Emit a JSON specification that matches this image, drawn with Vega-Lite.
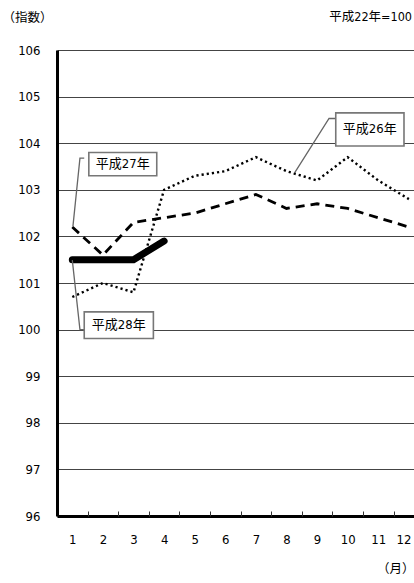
{
  "$schema": "https://vega.github.io/schema/vega-lite/v6.json",
  "autosize": "none",
  "width": 357,
  "height": 466,
  "padding": {"left": 57, "top": 50, "right": 0, "bottom": 67},
  "background": "white",
  "config": {
    "view": {"stroke": null},
    "font": "Liberation Sans Narrow, DejaVu Sans Condensed, Noto Sans CJK JP, sans-serif"
  },
  "title": {
    "text": "平成22年=100",
    "anchor": "end",
    "frame": "group",
    "orient": "top",
    "offset": -12,
    "fontSize": 12.5,
    "fontWeight": "normal",
    "font": "Liberation Sans Narrow, DejaVu Sans Condensed, Noto Sans CJK JP, sans-serif",
    "color": "black",
    "dx": -2
  },
  "resolve": {"axis": {"x": "independent"}},
  "datasets": {
    "lines": [
      {"series": "平成26年", "month": 1, "value": 100.7},
      {"series": "平成26年", "month": 2, "value": 101.0},
      {"series": "平成26年", "month": 3, "value": 100.8},
      {"series": "平成26年", "month": 4, "value": 103.0},
      {"series": "平成26年", "month": 5, "value": 103.3},
      {"series": "平成26年", "month": 6, "value": 103.4},
      {"series": "平成26年", "month": 7, "value": 103.7},
      {"series": "平成26年", "month": 8, "value": 103.4},
      {"series": "平成26年", "month": 9, "value": 103.2},
      {"series": "平成26年", "month": 10, "value": 103.7},
      {"series": "平成26年", "month": 11, "value": 103.2},
      {"series": "平成26年", "month": 12, "value": 102.8},
      {"series": "平成27年", "month": 1, "value": 102.2},
      {"series": "平成27年", "month": 2, "value": 101.6},
      {"series": "平成27年", "month": 3, "value": 102.3},
      {"series": "平成27年", "month": 4, "value": 102.4},
      {"series": "平成27年", "month": 5, "value": 102.5},
      {"series": "平成27年", "month": 6, "value": 102.7},
      {"series": "平成27年", "month": 7, "value": 102.9},
      {"series": "平成27年", "month": 8, "value": 102.6},
      {"series": "平成27年", "month": 9, "value": 102.7},
      {"series": "平成27年", "month": 10, "value": 102.6},
      {"series": "平成27年", "month": 11, "value": 102.4},
      {"series": "平成27年", "month": 12, "value": 102.2},
      {"series": "平成28年", "month": 1, "value": 101.5},
      {"series": "平成28年", "month": 2, "value": 101.5},
      {"series": "平成28年", "month": 3, "value": 101.5},
      {"series": "平成28年", "month": 4, "value": 101.9}
    ],
    "boxes": [
      {"label": "平成27年", "x1": 1.54, "x2": 3.76, "y1": 103.80, "y2": 103.30, "tx": 2.65, "ty": 103.55},
      {"label": "平成28年", "x1": 1.39, "x2": 3.65, "y1": 100.38, "y2": 99.81, "tx": 2.52, "ty": 100.10},
      {"label": "平成26年", "x1": 9.61, "x2": 11.84, "y1": 104.65, "y2": 103.94, "tx": 10.72, "ty": 104.30}
    ],
    "leaders": [
      {"grp": "a", "ord": 1, "month": 1.39, "value": 103.68},
      {"grp": "a", "ord": 2, "month": 1.25, "value": 103.68},
      {"grp": "a", "ord": 3, "month": 1.02, "value": 102.21},
      {"grp": "b", "ord": 1, "month": 1.0, "value": 101.49},
      {"grp": "b", "ord": 2, "month": 1.25, "value": 100.0},
      {"grp": "b", "ord": 3, "month": 1.39, "value": 100.0},
      {"grp": "c", "ord": 1, "month": 8.27, "value": 103.37},
      {"grp": "c", "ord": 2, "month": 9.39, "value": 104.53},
      {"grp": "c", "ord": 3, "month": 9.61, "value": 104.53}
    ]
  },
  "layer": [
    {
      "data": {"name": "lines"},
      "transform": [{"filter": "datum.series === '平成26年'"}],
      "mark": {"type": "line", "color": "black", "strokeWidth": 2.4, "strokeDash": [2.2, 3], "strokeCap": "butt"},
      "encoding": {
        "x": {
          "field": "month", "type": "quantitative",
          "scale": {"domain": [0.5, 12.167], "nice": false, "zero": false},
          "axis": {
            "orient": "bottom",
            "values": [1, 2, 3, 4, 5, 6, 7, 8, 9, 10, 11, 12],
            "labelFontSize": 13,
            "labelColor": "black",
            "labelBaseline": "top",
            "labelPadding": 17,
            "labelFlush": 7,
            "labelFlushOffset": 2,
            "labelOverlap": false,
            "labelBound": false,
            "ticks": false,
            "tickSize": 0,
            "domainColor": "black",
            "domainWidth": 3,
            "grid": false,
            "title": "（月）",
            "titleFontSize": 12.5,
            "titleFontWeight": "normal",
            "titleColor": "black",
            "titleAngle": 0,
            "titleAlign": "right",
            "titleBaseline": "middle",
            "titleAnchor": null,
            "titleX": 357,
            "titleY": 52
          }
        },
        "y": {
          "field": "value", "type": "quantitative",
          "scale": {"domain": [96, 106], "nice": false, "zero": false},
          "axis": {
            "values": [96, 97, 98, 99, 100, 101, 102, 103, 104, 105, 106],
            "labelFontSize": 13,
            "labelColor": "black",
            "labelPadding": 17,
            "tickSize": 0,
            "ticks": false,
            "domainColor": "black",
            "domainWidth": 3,
            "grid": true,
            "gridColor": "#444",
            "gridWidth": 1,
            "title": "（指数）",
            "titleFontSize": 12.5,
            "titleFontWeight": "normal",
            "titleColor": "black",
            "titleAngle": 0,
            "titleAlign": "left",
            "titleBaseline": "middle",
            "titleAnchor": null,
            "titleX": -55,
            "titleY": -33
          }
        }
      }
    },
    {
      "data": {"name": "lines"},
      "transform": [{"filter": "datum.series === '平成27年'"}],
      "mark": {"type": "line", "color": "black", "strokeWidth": 2.8, "strokeDash": [9, 6], "strokeCap": "butt"},
      "encoding": {
        "x": {
          "field": "month", "type": "quantitative",
          "axis": {
            "orient": "top",
            "offset": -466,
            "values": [1.5, 2.5, 3.5, 4.5, 5.5, 6.5, 7.5, 8.5, 9.5, 10.5, 11.5],
            "labels": false,
            "domain": false,
            "grid": false,
            "ticks": true,
            "tickSize": 5,
            "tickColor": "#333",
            "tickWidth": 1,
            "title": null
          }
        },
        "y": {"field": "value", "type": "quantitative"}
      }
    },
    {
      "data": {"name": "lines"},
      "transform": [{"filter": "datum.series === '平成28年'"}],
      "mark": {"type": "line", "color": "black", "strokeWidth": 7, "strokeCap": "round", "strokeJoin": "round"},
      "encoding": {
        "x": {"field": "month", "type": "quantitative", "axis": null},
        "y": {"field": "value", "type": "quantitative"}
      }
    },
    {
      "mark": {"type": "rule", "color": "black", "strokeWidth": 3},
      "encoding": {"y": {"datum": 106}}
    },
    {
      "data": {"name": "leaders"},
      "mark": {"type": "line", "color": "#666", "strokeWidth": 1.3},
      "encoding": {
        "x": {"field": "month", "type": "quantitative", "axis": null},
        "y": {"field": "value", "type": "quantitative"},
        "detail": {"field": "grp"},
        "order": {"field": "ord"}
      }
    },
    {
      "data": {"name": "boxes"},
      "mark": {"type": "rect", "fill": "white", "stroke": "#777", "strokeWidth": 1.6},
      "encoding": {
        "x": {"field": "x1", "type": "quantitative", "axis": null},
        "x2": {"field": "x2"},
        "y": {"field": "y1", "type": "quantitative"},
        "y2": {"field": "y2"}
      }
    },
    {
      "data": {"name": "boxes"},
      "mark": {"type": "text", "fontSize": 13, "color": "black", "align": "center", "baseline": "middle"},
      "encoding": {
        "x": {"field": "tx", "type": "quantitative", "axis": null},
        "y": {"field": "ty", "type": "quantitative"},
        "text": {"field": "label"}
      }
    }
  ]
}
